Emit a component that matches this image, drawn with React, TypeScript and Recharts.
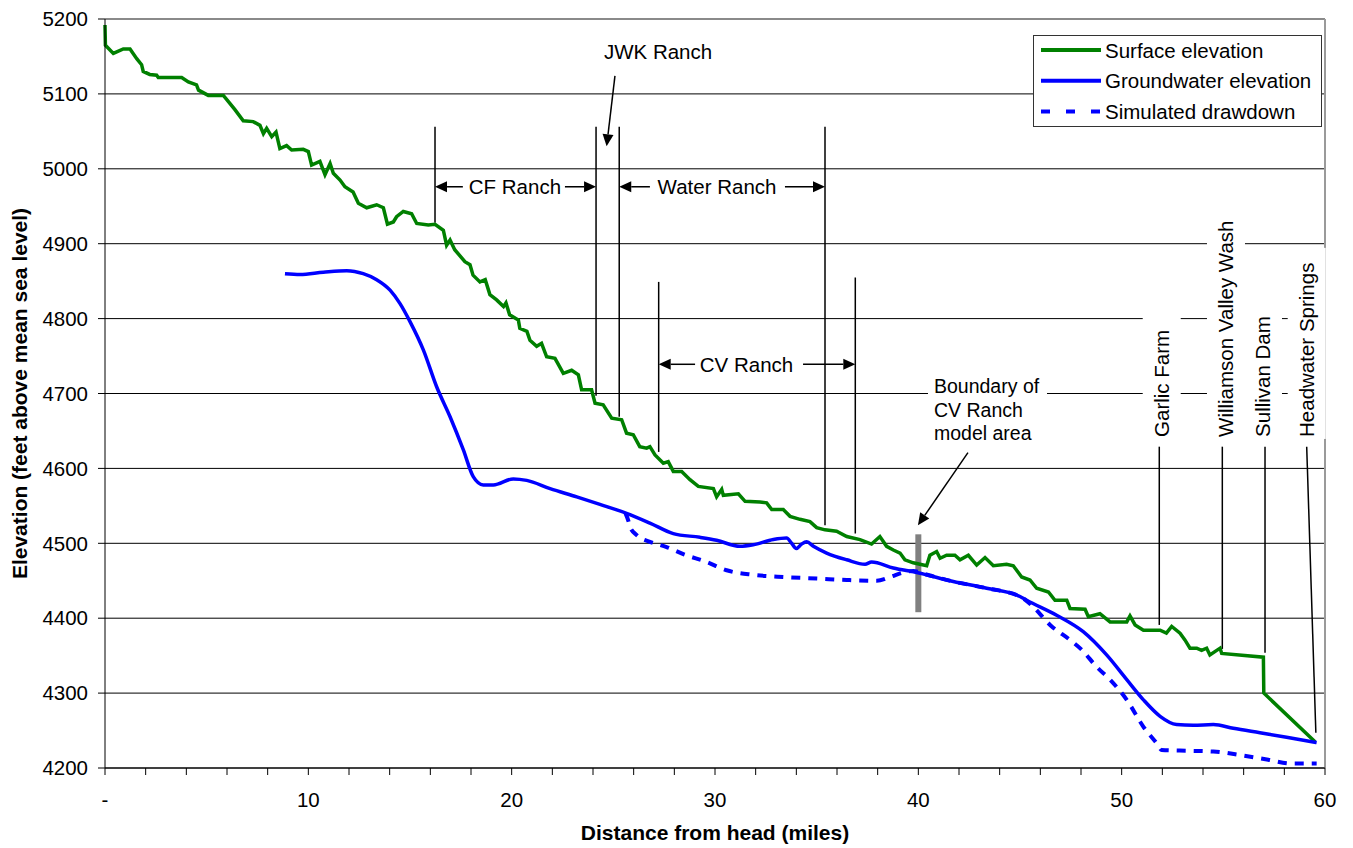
import {
  LineChart,
  Line,
  XAxis,
  YAxis,
  CartesianGrid,
  ReferenceLine,
  ReferenceDot,
  Legend,
} from "recharts";

// [distance from head (miles), elevation (ft)]
const surfaceElevation: [number, number][] = [
  [0, 5192], [0.02, 5165], [0.41, 5154], [0.9, 5160], [1.23, 5160], [1.56, 5147],
  [1.8, 5139], [1.88, 5130], [2.2, 5126], [2.54, 5125], [2.62, 5122], [3.77, 5122],
  [4.1, 5116], [4.5, 5112], [4.6, 5105], [5.08, 5098], [5.82, 5098], [6.06, 5090],
  [6.39, 5079], [6.8, 5064], [7.29, 5063], [7.62, 5058], [7.79, 5047], [7.95, 5054],
  [8.2, 5043], [8.41, 5049], [8.6, 5027], [8.93, 5031], [9.18, 5025], [9.75, 5026],
  [10.0, 5023], [10.16, 5005], [10.57, 5010], [10.82, 4992], [11.07, 5007], [11.23, 4994],
  [11.56, 4985], [11.8, 4976], [12.2, 4969], [12.46, 4954], [12.87, 4948], [13.36, 4952],
  [13.69, 4948], [13.89, 4926], [14.18, 4929], [14.34, 4936], [14.67, 4943], [15.08, 4940],
  [15.33, 4927], [15.9, 4925], [16.23, 4926], [16.64, 4918], [16.8, 4898], [16.97, 4905],
  [17.2, 4892], [17.7, 4876], [17.95, 4872], [18.1, 4858], [18.44, 4849], [18.7, 4852],
  [18.93, 4832], [19.26, 4825], [19.6, 4816], [19.72, 4821], [19.9, 4805], [20.33, 4798],
  [20.4, 4787], [20.75, 4783], [20.9, 4771], [21.23, 4763], [21.47, 4767], [21.72, 4749],
  [22.13, 4747], [22.54, 4727], [22.95, 4731], [23.28, 4725], [23.44, 4705], [23.93, 4705],
  [24.1, 4687], [24.5, 4685], [24.92, 4667], [25.41, 4665], [25.65, 4647], [25.98, 4645],
  [26.3, 4629], [26.64, 4627], [26.8, 4629], [27.05, 4618], [27.46, 4607], [27.7, 4609],
  [27.95, 4596], [28.36, 4596], [28.77, 4585], [29.18, 4576], [29.92, 4573], [30.08, 4562],
  [30.33, 4572], [30.41, 4564], [31.15, 4566], [31.48, 4556], [32.21, 4555], [32.54, 4554],
  [32.79, 4545], [33.36, 4545], [33.69, 4536], [34.18, 4532], [34.67, 4529], [35.0, 4521],
  [35.41, 4518], [35.98, 4516], [36.48, 4509], [37.13, 4505], [37.7, 4499], [38.11, 4509],
  [38.44, 4496], [38.77, 4491], [39.1, 4487], [39.34, 4478], [39.75, 4474], [40.08, 4472],
  [40.41, 4470], [40.57, 4484], [40.9, 4489], [41.07, 4480], [41.39, 4484], [41.8, 4484],
  [42.05, 4478], [42.46, 4484], [42.87, 4471], [43.28, 4481], [43.69, 4470], [44.34, 4472],
  [44.67, 4470], [45.08, 4455], [45.49, 4451], [45.82, 4440], [46.4, 4435], [46.72, 4424],
  [47.3, 4424], [47.46, 4413], [48.2, 4412], [48.36, 4402], [48.93, 4406], [49.43, 4395],
  [50.25, 4395], [50.41, 4403], [50.66, 4391], [51.07, 4384], [51.89, 4384], [52.2, 4380],
  [52.46, 4389], [52.87, 4380], [53.11, 4371], [53.36, 4360], [53.69, 4360], [53.93, 4357],
  [54.18, 4360], [54.34, 4351], [54.84, 4360], [54.92, 4353], [56.97, 4348], [56.99, 4300],
  [59.51, 4235],
];

const groundwaterElevation: [number, number][] = [
  [8.85, 4860], [9.59, 4859], [10.74, 4862], [11.89, 4864], [12.7, 4860], [13.36, 4852],
  [14.02, 4838], [14.51, 4820], [15.0, 4796], [15.66, 4758], [16.31, 4709], [16.97, 4669],
  [17.62, 4625], [18.11, 4589], [18.6, 4578], [19.1, 4578], [20.08, 4586], [20.74, 4584],
  [21.89, 4573], [23.2, 4562], [24.34, 4552], [25.65, 4540], [26.8, 4527], [27.95, 4513],
  [29.26, 4508], [30.08, 4504], [31.23, 4496], [31.88, 4498], [32.87, 4505], [33.52, 4507],
  [33.77, 4500], [34.0, 4493], [34.26, 4499], [34.51, 4502], [34.84, 4496], [35.49, 4487],
  [36.48, 4478], [37.38, 4472], [37.7, 4475], [38.77, 4467], [39.92, 4461], [41.72, 4449],
  [43.36, 4440], [45.0, 4429], [45.33, 4424], [46.8, 4404], [48.11, 4382], [49.26, 4351],
  [50.25, 4318], [51.07, 4291], [51.89, 4269], [52.7, 4258], [53.52, 4257], [54.51, 4258],
  [55.49, 4253], [56.8, 4247], [58.11, 4241], [59.59, 4234],
];

const simulatedDrawdown: [number, number][] = [
  [25.6, 4540], [25.74, 4530], [25.82, 4522], [26.15, 4511], [26.8, 4502], [27.62, 4495],
  [28.5, 4485], [29.59, 4475], [30.57, 4464], [31.88, 4458], [33.36, 4455], [35.0, 4453],
  [36.48, 4451], [37.95, 4450], [38.61, 4455], [39.26, 4461], [39.75, 4463], [40.3, 4459],
  [41.72, 4449], [43.36, 4440], [45.0, 4429], [45.66, 4415], [46.48, 4391], [47.46, 4371],
  [48.03, 4358], [48.77, 4335], [49.43, 4318], [50.25, 4291], [51.07, 4255], [51.72, 4233],
  [51.97, 4224], [53.2, 4223], [54.51, 4222], [55.9, 4217], [57.21, 4211], [58.36, 4206],
  [59.59, 4206],
];

const xTicks = [0, 2, 4, 6, 8, 10, 12, 14, 16, 18, 20, 22, 24, 26, 28, 30, 32, 34, 36, 38, 40, 42, 44, 46, 48, 50, 52, 54, 56, 58, 60];
const xTickLabels: Record<number, string> = { 0: "-", 10: "10", 20: "20", 30: "30", 40: "40", 50: "50", 60: "60" };
const yTicks = [4200, 4300, 4400, 4500, 4600, 4700, 4800, 4900, 5000, 5100, 5200];

// ranch boundaries and site leader lines: [x1, y1, x2, y2]
const markerLines: [number, number, number, number][] = [
  [16.23, 5056, 16.23, 4928],
  [24.15, 5056, 24.15, 4697],
  [25.29, 5056, 25.29, 4669],
  [35.41, 5056, 35.41, 4524],
  [27.23, 4849, 27.23, 4622],
  [36.9, 4855, 36.9, 4513],
  [51.85, 4629, 51.85, 4391],
  [54.95, 4629, 54.95, 4359],
  [57.05, 4629, 57.05, 4354],
  [59.1, 4629, 59.55, 4247],
];

// arrows: [fromX, fromY, toX, toY] (head at "to")
const arrows: [number, number, number, number][] = [
  [17.6, 4976, 16.23, 4976],
  [22.62, 4976, 24.15, 4976],
  [26.8, 4976, 25.29, 4976],
  [33.44, 4976, 35.41, 4976],
  [29.02, 4739, 27.23, 4739],
  [34.33, 4739, 36.9, 4739],
  [25.08, 5124, 24.67, 5030],
  [42.44, 4621, 39.98, 4524],
];

const rangeLabels: { text: string; x: number; y: number }[] = [
  { text: "JWK Ranch", x: 27.2, y: 5156 },
  { text: "CF Ranch", x: 20.16, y: 4976 },
  { text: "Water Ranch", x: 30.1, y: 4976 },
  { text: "CV Ranch", x: 31.55, y: 4739 },
];

const siteLabels: { text: string; x: number; y: number }[] = [
  { text: "Garlic Farm", x: 51.97, y: 4642 },
  { text: "Williamson Valley Wash", x: 55.13, y: 4642 },
  { text: "Sullivan Dam", x: 56.95, y: 4642 },
  { text: "Headwater Springs", x: 59.1, y: 4642 },
];

const boundaryLabel = ["Boundary of", "CV Ranch", "model area"];

const series = [
  { name: "Surface elevation", color: "#008000", dash: undefined as string | undefined },
  { name: "Groundwater elevation", color: "#0000ff", dash: undefined as string | undefined },
  { name: "Simulated drawdown", color: "#0000ff", dash: "9 8" },
];

const toPts = (rows: [number, number][]) => rows.map(([x, y]) => ({ x, y }));

const FONT = "'Liberation Sans', Arial, sans-serif";

function ArrowShape(props: any) {
  const { x1, y1, x2, y2 } = props;
  const ang = Math.atan2(y2 - y1, x2 - x1);
  const L = 12;
  const W = 5.5;
  const bx = x2 - L * Math.cos(ang);
  const by = y2 - L * Math.sin(ang);
  const s = Math.sin(ang);
  const c = Math.cos(ang);
  const pts = `${x2},${y2} ${bx - W * s},${by + W * c} ${bx + W * s},${by - W * c}`;
  return (
    <g>
      <line x1={x1} y1={y1} x2={bx} y2={by} stroke="#000" strokeWidth={1.5} />
      <polygon points={pts} fill="#000" />
    </g>
  );
}

function LegendBox() {
  return (
    <div style={{ width: 287, height: 90, border: "1px solid #333", background: "#fff", fontFamily: FONT }}>
      <svg width={287} height={90}>
        {series.map((s, i) => (
          <g key={s.name}>
            <line
              x1={7}
              x2={67}
              y1={14 + i * 30.7}
              y2={14 + i * 30.7}
              stroke={s.color}
              strokeWidth={4}
              strokeDasharray={s.dash ? "9 16" : undefined}
            />
            <text x={71} y={14 + i * 30.7} dominantBaseline="central" fontSize={20.5} fill="#000">
              {s.name}
            </text>
          </g>
        ))}
      </svg>
    </div>
  );
}

export default function App() {
  return (
    <div style={{ position: "absolute", left: 0, top: 0, fontFamily: FONT, background: "#fff" }}>
      <LineChart width={1353} height={848} margin={{ top: 19, right: 28, bottom: 0, left: 0 }}>
        <CartesianGrid vertical={false} stroke="#000" strokeWidth={1} />
        <XAxis
          type="number"
          dataKey="x"
          domain={[0, 60]}
          ticks={xTicks}
          interval={0}
          tickFormatter={(v: number) => xTickLabels[v] ?? ""}
          height={80}
          tickSize={7}
          tickMargin={17}
          stroke="#000"
          tick={{ fill: "#000", fontSize: 20.5 }}
          label={{
            value: "Distance from head (miles)",
            position: "insideBottom",
            offset: 8,
            style: { fontWeight: "bold", fontSize: 21, fill: "#000" },
          }}
        />
        <YAxis
          type="number"
          domain={[4200, 5200]}
          ticks={yTicks}
          width={105}
          tickSize={7}
          tickMargin={10}
          stroke="#000"
          tick={{ fill: "#000", fontSize: 20.5 }}
          label={{
            value: "Elevation (feet above mean sea level)",
            angle: -90,
            position: "insideLeft",
            offset: 20,
            style: { textAnchor: "middle", fontWeight: "bold", fontSize: 21, fill: "#000" },
          }}
        />
        <ReferenceLine y={5200} stroke="#8a8a8a" strokeWidth={2} />
        <ReferenceLine x={60} stroke="#9a9a9a" strokeWidth={2} />

        {markerLines.map(([x1, y1, x2, y2], i) => (
          <ReferenceLine
            key={`m${i}`}
            segment={[{ x: x1, y: y1 }, { x: x2, y: y2 }]}
            stroke="#000"
            strokeWidth={1.5}
          />
        ))}
        {arrows.map(([x1, y1, x2, y2], i) => (
          <ReferenceLine
            key={`a${i}`}
            segment={[{ x: x1, y: y1 }, { x: x2, y: y2 }]}
            shape={ArrowShape}
          />
        ))}
        <ReferenceLine segment={[{ x: 40, y: 4512 }, { x: 40, y: 4408 }]} stroke="#808080" strokeWidth={6} />

        {rangeLabels.map((l) => (
          <ReferenceDot
            key={l.text}
            x={l.x}
            y={l.y}
            r={1}
            shape={(p: any) => (
              <text x={p.cx} y={p.cy} textAnchor="middle" dominantBaseline="central" fontSize={20.5} fill="#000">
                {l.text}
              </text>
            )}
          />
        ))}
        {siteLabels.map((l) => (
          <ReferenceDot
            key={l.text}
            x={l.x}
            y={l.y}
            r={1}
            shape={(p: any) => {
              const h = l.text.length * 10.3 + 14;
              return (
                <g>
                  <rect x={p.cx - 19} y={p.cy - h} width={38} height={h + 2} fill="#fff" />
                  <text
                    transform={`translate(${p.cx},${p.cy}) rotate(-90)`}
                    dominantBaseline="central"
                    fontSize={20.5}
                    fill="#000"
                  >
                    {l.text}
                  </text>
                </g>
              );
            }}
          />
        ))}
        <ReferenceDot
          x={40.77}
          y={4678}
          r={1}
          shape={(p: any) => (
            <g>
              <rect x={p.cx - 6} y={p.cy - 38} width={119} height={74} fill="#fff" />
              {boundaryLabel.map((t, i) => (
                <text key={t} x={p.cx} y={p.cy + (i - 1) * 23.5} dominantBaseline="central" fontSize={19.5} fill="#000">
                  {t}
                </text>
              ))}
            </g>
          )}
        />

        <Line
          data={toPts(surfaceElevation)}
          dataKey="y"
          name={series[0].name}
          type="linear"
          stroke={series[0].color}
          strokeWidth={3.5}
          dot={false}
          isAnimationActive={false}
        />
        <Line
          data={toPts(simulatedDrawdown)}
          dataKey="y"
          name={series[2].name}
          type="monotone"
          stroke={series[2].color}
          strokeWidth={4}
          strokeDasharray={series[2].dash}
          dot={false}
          isAnimationActive={false}
        />
        <Line
          data={toPts(groundwaterElevation)}
          dataKey="y"
          name={series[1].name}
          type="monotone"
          stroke={series[1].color}
          strokeWidth={3.5}
          dot={false}
          isAnimationActive={false}
        />
        <Legend
          layout="vertical"
          verticalAlign="middle"
          align="center"
          content={() => <LegendBox />}
          wrapperStyle={{ left: 1033, top: 35, width: 289, height: 92 }}
        />
      </LineChart>
    </div>
  );
}
